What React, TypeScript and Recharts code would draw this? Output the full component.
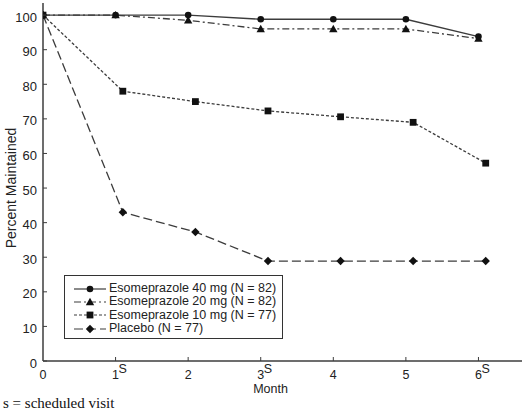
import React from "react";
import { LineChart, Line, XAxis, YAxis, Legend, Label } from "recharts";

const months = [0, 1, 2, 3, 4, 5, 6];
const monthsShifted = [0, 1.1, 2.1, 3.1, 4.1, 5.1, 6.1];
const esome40 = [100, 100, 100, 98.8, 98.8, 98.8, 93.8];
const esome20 = [100, 100, 98.5, 96, 96, 96, 93.2];
const esome10 = [100, 78, 75, 72.3, 70.6, 69, 57.2];
const placebo = [100, 43, 37.3, 28.9, 28.9, 28.9, 28.9];
const xTicks = [0, 1, 2, 3, 4, 5, 6];
const scheduledTicks = [1, 3, 6];
const yTicks = [0, 10, 20, 30, 40, 50, 60, 70, 80, 90, 100];

const build = (xs: number[], ys: number[]) => xs.map((m, i) => ({ m, v: ys[i] }));

const FONT = "'Liberation Sans', Arial, sans-serif";
const LINE = "#3c3c3c";
const MARK = "#111";

type Shape = "circle" | "triangle" | "square" | "diamond";

const marker = (shape: Shape, cx: number, cy: number) => {
  if (shape === "circle") return <circle cx={cx} cy={cy} r={3.3} fill={MARK} />;
  if (shape === "square") return <rect x={cx - 3.4} y={cy - 3.4} width={6.8} height={6.8} fill={MARK} />;
  if (shape === "triangle")
    return <polygon points={`${cx},${cy - 4.2} ${cx + 4.2},${cy + 3.2} ${cx - 4.2},${cy + 3.2}`} fill={MARK} />;
  return <polygon points={`${cx},${cy - 4.2} ${cx + 4.2},${cy} ${cx},${cy + 4.2} ${cx - 4.2},${cy}`} fill={MARK} />;
};

const makeDot = (shape: Shape) => (props: any) => {
  const { cx, cy, index } = props;
  if (cx == null || cy == null) return <g key={`${shape}-${index}`} />;
  return <g key={`${shape}-${index}`}>{marker(shape, cx, cy)}</g>;
};

const series = [
  { name: "Esomeprazole 40 mg (N = 82)", data: build(months, esome40), dash: undefined, shape: "circle" as Shape },
  { name: "Esomeprazole 20 mg (N = 82)", data: build(months, esome20), dash: "7 3 2 3", shape: "triangle" as Shape },
  { name: "Esomeprazole 10 mg (N = 77)", data: build(monthsShifted, esome10), dash: "3 2", shape: "square" as Shape },
  { name: "Placebo (N = 77)", data: build(monthsShifted, placebo), dash: "9 4", shape: "diamond" as Shape },
];

const YTick = (props: any) => {
  const { x, y, payload } = props;
  const axisX = x + 6;
  return (
    <g>
      <line x1={axisX} x2={axisX + 4} y1={y} y2={y} stroke={LINE} strokeWidth={1} />
      <text x={x} y={y} dy="0.5em" textAnchor="end" fontSize={13} fontFamily={FONT} fill="#222">
        {payload.value}
      </text>
    </g>
  );
};

const XTick = (props: any) => {
  const { x, y, payload } = props;
  const axisY = y - 9;
  const sched = scheduledTicks.includes(payload.value);
  return (
    <g>
      {payload.value !== 0 && (
        <line x1={x} x2={x} y1={axisY} y2={axisY - 4} stroke={LINE} strokeWidth={1} />
      )}
      <text x={x} y={y} dy="0.71em" textAnchor="middle" fontSize={12.5} fontFamily={FONT} fill="#222">
        {payload.value}
      </text>
      {sched && (
        <text x={x + 3} y={y - 6} dy="0.71em" textAnchor="start" fontSize={12.5} fontFamily={FONT} fill="#222">
          S
        </text>
      )}
    </g>
  );
};

const LegendBox = () => (
  <div
    style={{
      border: "1.5px solid #333",
      background: "#fff",
      boxSizing: "border-box",
      width: 219,
      height: 64,
      padding: "6px 0 0 9px",
      fontFamily: FONT,
      fontSize: 12.5,
      color: "#222",
    }}
  >
    {series.map((s) => (
      <div key={s.name} style={{ display: "flex", alignItems: "center", height: 13.3, lineHeight: "13.3px" }}>
        <svg width={32} height={12} style={{ marginRight: 3, flex: "none" }}>
          <line x1={0} x2={32} y1={6} y2={6} stroke={LINE} strokeWidth={1.2} strokeDasharray={s.dash} />
          {marker(s.shape, 16, 6)}
        </svg>
        <span style={{ whiteSpace: "nowrap" }}>{s.name}</span>
      </div>
    ))}
  </div>
);

export default function App() {
  return (
    <div style={{ position: "absolute", left: 0, top: 0, width: 523, height: 413, background: "#fff" }}>
      <LineChart width={523} height={413} margin={{ top: 3, right: 1, left: 0, bottom: 22 }}>
        <XAxis
          dataKey="m"
          type="number"
          domain={[0, 6.6]}
          ticks={xTicks}
          allowDataOverflow
          height={30}
          tickSize={0}
          tickMargin={9}
          tickLine={false}
          tick={<XTick />}
          axisLine={{ stroke: LINE, strokeWidth: 1.5 }}
        >
          <Label value="Month" position="insideBottom" offset={-2} dx={-12} fontSize={12.5} fontFamily={FONT} fill="#222" />
        </XAxis>
        <YAxis
          type="number"
          domain={[0, 103.5]}
          ticks={yTicks}
          allowDataOverflow
          width={43}
          tickSize={0}
          tickMargin={6}
          tickLine={false}
          tick={<YTick />}
          axisLine={{ stroke: LINE, strokeWidth: 1.5 }}
        >
          <Label
            content={() => (
              <text
                transform="translate(10.5,188) rotate(-90)"
                textAnchor="middle"
                dominantBaseline="central"
                fontSize={14}
                fontFamily={FONT}
                fill="#222"
              >
                Percent Maintained
              </text>
            )}
          />
        </YAxis>
        {series.map((s) => (
          <Line
            key={s.name}
            data={s.data}
            dataKey="v"
            name={s.name}
            stroke={LINE}
            strokeWidth={1.3}
            strokeDasharray={s.dash}
            dot={makeDot(s.shape)}
            activeDot={false}
            isAnimationActive={false}
          />
        ))}
        <Legend
          layout="horizontal"
          verticalAlign="middle"
          align="center"
          content={() => <LegendBox />}
          wrapperStyle={{ left: 64, top: 275, width: 219, height: 64 }}
        />
      </LineChart>
      <div
        style={{
          position: "absolute",
          left: 3,
          top: 396,
          fontFamily: "'Liberation Serif', 'Times New Roman', serif",
          fontSize: 15,
          lineHeight: "15px",
          color: "#111",
          whiteSpace: "nowrap",
        }}
      >
        s = scheduled visit
      </div>
    </div>
  );
}
